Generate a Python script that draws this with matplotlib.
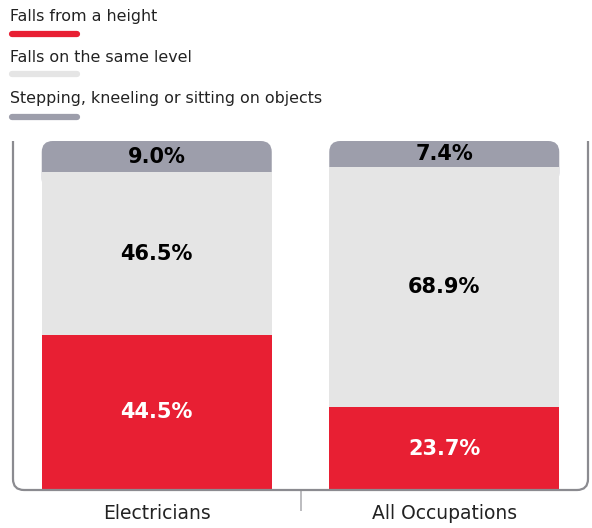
import numpy as np
import matplotlib.pyplot as plt
from matplotlib.patches import FancyBboxPatch
from matplotlib.path import Path
from matplotlib.patches import PathPatch
from matplotlib.lines import Line2D

categories = ['Electricians', 'All Occupations']
falls_height = [44.5, 23.7]
falls_same = [46.5, 68.9]
stepping = [9.0, 7.4]
series_names = ['Falls from a height', 'Falls on the same level',
                'Stepping, kneeling or sitting on objects']

red = '#E81F33'
light = '#E5E5E5'
grey = '#9D9EAB'
frame = '#8B8B90'

W, H = 592, 528
fig = plt.figure(figsize=(W / 100, H / 100), dpi=100)
ax = fig.add_axes([13 / W, 1 - 490 / H, 575 / W, 349 / H])
ax.set_xlim(-0.5, 1.5)
ax.set_ylim(0, 100)
for s in ax.spines.values():
    s.set_visible(False)

x = np.arange(len(categories))
bw = 0.8
falls_height = np.array(falls_height)
falls_same = np.array(falls_same)
stepping = np.array(stepping)

# pixel -> data scale for rounded corners
px_x = 2.0 / 575
px_y = 100.0 / 349
r = 11

for i in range(len(categories)):
    b2 = falls_height[i] + falls_same[i]
    top = b2 + stepping[i]
    # rounded top segment, lower corners hidden under the middle segment
    p = FancyBboxPatch((x[i] - bw / 2, b2 - 5), bw, top - b2 + 5,
                       boxstyle='round,pad=0,rounding_size=%f' % (r * px_x),
                       mutation_aspect=px_y / px_x, fc=grey, ec='none', zorder=1)
    ax.add_patch(p)
ax.bar(x, falls_height, bw, color=red, zorder=2)
ax.bar(x, falls_same, bw, bottom=falls_height, color=light, zorder=2)

for i in range(len(categories)):
    ax.text(x[i], falls_height[i] / 2, '%.1f%%' % falls_height[i], ha='center',
            va='center', color='white', fontsize=15, fontweight='bold', zorder=3)
    ax.text(x[i], falls_height[i] + falls_same[i] / 2, '%.1f%%' % falls_same[i],
            ha='center', va='center', color='black', fontsize=15,
            fontweight='bold', zorder=3)
    ax.text(x[i], falls_height[i] + falls_same[i] + stepping[i] / 2,
            '%.1f%%' % stepping[i], ha='center', va='center', color='black',
            fontsize=15, fontweight='bold', zorder=3)

# open frame with rounded bottom corners
rx = r * px_x / 2.0
ry = r * px_y / 100.0
verts = [(0, 1), (0, ry), (0, 0), (rx, 0), (1 - rx, 0), (1, 0), (1, ry), (1, 1)]
codes = [Path.MOVETO, Path.LINETO, Path.CURVE3, Path.CURVE3, Path.LINETO,
         Path.CURVE3, Path.CURVE3, Path.LINETO]
ax.add_patch(PathPatch(Path(verts, codes), transform=ax.transAxes, fill=False,
                       ec=frame, lw=1.6, clip_on=False, zorder=4))

ax.set_yticks([])
ax.set_xticks([0.5])
ax.set_xticklabels([''])
ax.tick_params(axis='x', which='major', length=15, width=1.2, color='#B0B0B4')
ax.set_xticks(x, minor=True)
ax.set_xticklabels(categories, minor=True, fontsize=13.5, color='#222222')
ax.tick_params(axis='x', which='minor', length=0, pad=10)

# legend: label with a short rounded bar underneath
leg_colors = [red, light, grey]
text_y = [17, 58, 98]
line_y = [34, 74, 117]
for name, c, ty, ly in zip(series_names, leg_colors, text_y, line_y):
    fig.text(10 / W, 1 - ty / H, name, fontsize=11.4, color='#222222',
             va='center', ha='left')
    fig.add_artist(Line2D([12 / W, 77 / W], [1 - ly / H, 1 - ly / H], color=c,
                          lw=4.5, solid_capstyle='round',
                          transform=fig.transFigure))

fig.savefig('out.png', dpi=100)
